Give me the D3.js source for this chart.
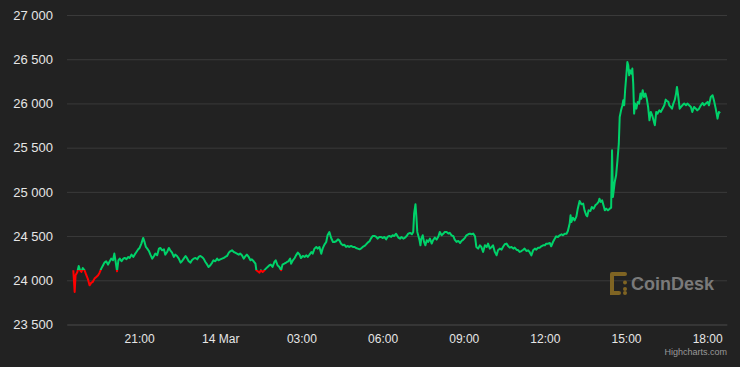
<!DOCTYPE html>
<html><head><meta charset="utf-8">
<script src="https://cdn.jsdelivr.net/npm/d3@7"></script>
<style>
html,body{margin:0;padding:0;background:#222222;}
svg{display:block;font-family:"Liberation Sans",Arial,Helvetica,sans-serif;}
</style></head><body>
<svg id="chart" width="740" height="367"></svg>
<script>
// ---- data ----
const startTime = Date.UTC(2023, 2, 13, 18, 30); // minutes below are counted from 13 Mar 18:30
const xDomainMinutes = [-10, 1454];
const yTicks = [23500, 24000, 24500, 25000, 25500, 26000, 26500, 27000];
const xTickMinutes = [150, 330, 510, 690, 870, 1050, 1230, 1410];
const xTickLabels = ["21:00", "14 Mar", "03:00", "06:00", "09:00", "12:00", "15:00", "18:00"];
const openPrice = 24115;
const priceData = [
[4,24113],[7,23868],[9,24057],[13,24094],[16,24162],[19,24113],[22,24094],[25,24139],[29,24113],[33,24057],
[36,24019],[40,23943],[44,23974],[47,23981],[51,24019],[55,24038],[59,24057],[62,24083],[66,24132],[70,24170],
[73,24200],[77,24215],[81,24177],[84,24207],[88,24245],[92,24226],[95,24302],[98,24207],[101,24102],[104,24226],
[107,24245],[111,24215],[115,24245],[118,24253],[122,24238],[126,24264],[129,24253],[133,24290],[137,24264],[140,24290],
[144,24320],[148,24351],[151,24366],[155,24415],[159,24479],[162,24434],[165,24377],[168,24358],[172,24328],[175,24290],
[179,24245],[183,24275],[186,24302],[190,24283],[194,24358],[197,24366],[201,24339],[205,24351],[208,24290],[212,24320],
[216,24366],[219,24339],[223,24313],[227,24264],[230,24290],[234,24275],
[238,24245],[242,24200],[245,24215],[249,24245],[253,24275],[256,24253],[260,24215],[264,24200],[267,24226],[271,24245],
[275,24253],[279,24237],[282,24264],[286,24275],[290,24260],[293,24245],[297,24207],[301,24177],[304,24151],[308,24170],
[312,24200],[315,24226],[319,24215],[323,24245],[326,24226],[330,24237],[334,24245],[338,24253],[341,24264],[345,24275],
[349,24313],[352,24328],[356,24339],[360,24320],[363,24313],[367,24302],[371,24290],[374,24302],[378,24283],[382,24245],
[386,24275],[389,24290],[393,24264],[397,24226],[400,24237],[404,24215],[408,24188],[410,24113],[413,24102],[417,24087],
[420,24113],[424,24094],[428,24113],[431,24132],[435,24151],[439,24170],[442,24177],[446,24151],[450,24207],[453,24226],
[457,24170],[461,24151],[465,24113],[468,24177],[472,24188],[476,24200],
[478,24207],[481,24215],[485,24245],[487,24188],[491,24226],[495,24252],[498,24282],[502,24313],[506,24290],[509,24252],
[513,24275],[517,24264],[521,24282],[524,24264],[528,24290],[532,24320],[535,24301],[539,24358],[543,24377],[546,24358],
[550,24377],[554,24301],[557,24358],[561,24403],[565,24433],[568,24509],[572,24546],[576,24478],[580,24433],[583,24433],
[587,24441],[591,24463],[594,24452],[598,24414],[602,24396],[605,24403],[609,24377],[613,24388],[616,24377],[620,24388],
[624,24377],[628,24377],[631,24365],[635,24358],[639,24350],[642,24358],[646,24377],[650,24388],[653,24403],[657,24426],
[661,24441],[664,24471],[668,24501],[672,24501],[676,24490],[679,24471],[683,24490],[687,24490],[690,24478],[694,24490],
[698,24463],[701,24490],[705,24501],[709,24490],[712,24509],[716,24501],[720,24527],
[725,24483],[729,24471],[732,24490],[736,24471],[740,24483],[743,24498],[747,24528],[751,24536],[755,24520],[758,24547],
[760,24754],[763,24860],[765,24717],[767,24547],[769,24509],[772,24453],[774,24396],[776,24471],[779,24509],[782,24434],
[785,24396],[788,24453],[791,24434],[795,24471],[799,24415],[802,24453],[806,24483],[810,24460],[814,24498],[817,24547],
[821,24509],[825,24528],[828,24547],[832,24547],[836,24528],[839,24536],[843,24509],[847,24498],[850,24460],[854,24434],
[858,24445],[862,24422],[865,24445],[869,24460],[873,24483],[876,24509],[880,24520],[884,24528],[887,24520],[891,24528],
[895,24498],[898,24377],[902,24358],[906,24396],[909,24377],[913,24321],[917,24396],[921,24377],[924,24415],[928,24358],
[932,24377],[935,24396],[939,24321],[943,24283],[946,24340],[950,24358],[954,24347],[957,24377],[961,24407],[965,24415],
[969,24384],[972,24369],[976,24377],[980,24358],[983,24369],[987,24346],[991,24339],[994,24320],[998,24331],[1002,24346],
[1005,24358],[1009,24331],[1013,24339],[1016,24320],[1020,24282],[1024,24339],[1028,24358],[1031,24346],[1035,24369],[1039,24369],
[1042,24384],[1046,24395],[1050,24395],[1053,24414],[1057,24414],[1061,24422],[1064,24384],[1068,24433],[1072,24471],[1075,24497],
[1079,24490],[1083,24509],[1087,24520],[1090,24509],[1094,24527],[1098,24527],[1101,24558],[1105,24641],[1107,24735],[1109,24659],
[1112,24708],[1116,24678],[1120,24723],[1123,24810],[1127,24897],[1131,24859],[1135,24867],[1138,24791],[1142,24735],[1144,24723],
[1147,24791],[1151,24784],[1154,24829],[1158,24810],[1162,24848],[1166,24867],[1169,24886],[1171,24923],[1174,24886],[1177,24905],
[1180,24848],[1183,24791],[1186,24810],[1190,24791],[1194,24810],[1197,24821],
[1199,25470],[1200,25200],[1201,24942],[1205,25112],[1208,25187],[1211,25357],[1214,25545],[1216,25847],[1219,25922],[1222,25979],
[1224,26036],[1226,25979],[1228,26149],[1231,26337],[1233,26469],[1235,26431],[1237,26318],[1239,26375],[1242,26337],[1244,26394],
[1246,26224],[1248,25885],[1250,25998],[1253,25941],[1256,26017],[1259,25998],[1262,26111],[1264,26054],[1267,26149],[1270,26073],
[1273,26111],[1276,26054],[1279,25960],[1282,25809],[1285,25904],[1288,25866],[1291,25809],[1294,25753],[1297,25904],[1300,25885],
[1304,25922],[1307,25904],[1311,25941],[1315,25979],[1318,26043],[1321,26028],[1324,26017],[1326,25979],[1329,25960],[1332,25941],
[1335,25998],[1338,26036],[1341,26111],[1343,26186],[1346,26073],[1349,25941],[1352,25960],[1355,25979],[1359,25998],[1363,25979],
[1366,25998],[1370,25979],[1374,25960],[1377,25904],[1381,25960],[1385,25941],[1388,25922],[1392,25941],[1396,25979],[1400,26005],
[1403,25979],[1407,25998],[1411,26017],[1414,25979],[1418,26073],[1422,26092],[1425,26036],[1429,25941],[1433,25828],[1436,25904],
[1439,25892]
];

// ---- chart ----
const W = 740, H = 367;
const plot = {left: 67, right: 727, top: 15, bottom: 324.5};
const toDate = m => new Date(startTime + m * 60000);
const svg = d3.select("#chart");
svg.append("rect").attr("width", W).attr("height", H).attr("fill", "#222222");

const x = d3.scaleTime().domain(xDomainMinutes.map(toDate)).range([plot.left, plot.right]);
const y = d3.scaleLinear().domain([23500, 27000]).range([plot.bottom, plot.top]);

const fmt = d3.formatLocale({decimal: ".", thousands: "\u00a0", grouping: [3], currency: ["", ""]}).format(",d");

// y axis + grid
const yAxis = svg.append("g").attr("transform", `translate(${plot.left},0)`)
  .call(d3.axisLeft(y).tickValues(yTicks).tickFormat(fmt).tickSize(-(plot.right - plot.left)).tickPadding(14));
yAxis.select(".domain").remove();
yAxis.selectAll(".tick line").attr("stroke", "#3a3a3a").attr("stroke-width", 1);
yAxis.selectAll(".tick text").attr("fill", "#e6e6e6").style("font-size", "13px");

// x axis
const xAxis = svg.append("g").attr("transform", `translate(0,${plot.bottom})`)
  .call(d3.axisBottom(x).tickValues(xTickMinutes.map(toDate)).tickFormat((d, i) => xTickLabels[i]).tickSize(0).tickPadding(10));
xAxis.select(".domain").attr("stroke", "#3f3f3f");
xAxis.selectAll(".tick text").attr("fill", "#e6e6e6").style("font-size", "12px");

// watermark
const wm = svg.append("g");
const gold = "#7f6423";
const logoDots = [[612,274],[618.5,274],[625,274],[612,280.5],[612,287],[612,293],[618.5,293],[625,293],[625,283],[625,289]];
wm.append("path").attr("d", "M612,274 H625 M612,274 V293 H619").attr("stroke", gold).attr("stroke-width", 4).attr("fill", "none").attr("stroke-linecap", "round");
wm.selectAll("circle").data([[625,282.5],[625,289],[625,293]]).join("circle")
  .attr("cx", d => d[0]).attr("cy", d => d[1]).attr("r", 2).attr("fill", gold);
wm.append("text").attr("x", 631).attr("y", 290).text("CoinDesk")
  .attr("fill", "#7a7a7a").style("font-size", "18px").style("font-weight", "bold");

// line with zones
const line = d3.line().x(d => x(toDate(d[0]))).y(d => y(d[1]));
const ty = y(openPrice);
const defs = svg.append("defs");
defs.append("clipPath").attr("id", "clipUp").append("rect")
  .attr("x", 0).attr("y", 0).attr("width", W).attr("height", ty);
defs.append("clipPath").attr("id", "clipDown").append("rect")
  .attr("x", 0).attr("y", ty).attr("width", W).attr("height", H - ty);
svg.append("path").datum(priceData).attr("d", line).attr("fill", "none")
  .attr("stroke", "#00d26a").attr("stroke-width", 2).attr("stroke-linejoin", "round").attr("clip-path", "url(#clipUp)");
svg.append("path").datum(priceData).attr("d", line).attr("fill", "none")
  .attr("stroke", "#ff0000").attr("stroke-width", 2).attr("stroke-linejoin", "round").attr("clip-path", "url(#clipDown)");

// credits
svg.append("text").attr("x", 727).attr("y", 355).attr("text-anchor", "end")
  .text("Highcharts.com").attr("fill", "#999999").style("font-size", "9px");
</script>
</body></html>
